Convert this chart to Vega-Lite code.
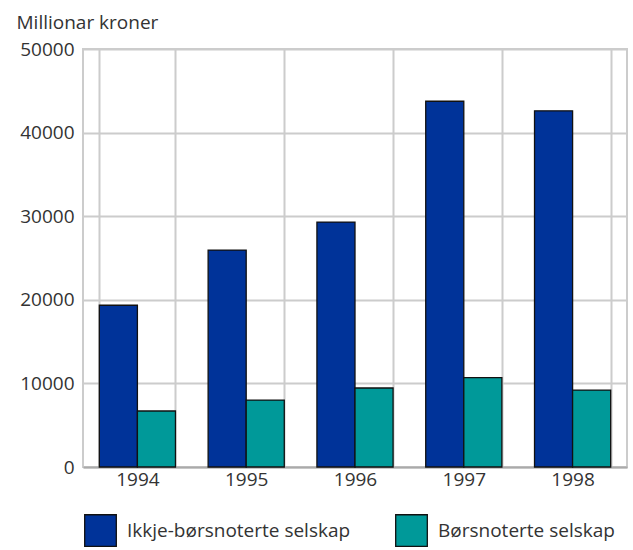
{
  "$schema": "https://vega.github.io/schema/vega-lite/v6.json",
  "width": 544,
  "height": 418,
  "autosize": "none",
  "padding": {"left": 83, "top": 49, "right": 6, "bottom": 83},
  "background": "white",
  "config": {
    "font": "Open Sans",
    "view": {"stroke": "#cccccc", "strokeWidth": 2}
  },
  "data": {
    "values": [
      {"year": "1994", "type": "Ikkje-børsnoterte selskap", "value": 19350},
      {"year": "1994", "type": "Børsnoterte selskap", "value": 6700},
      {"year": "1995", "type": "Ikkje-børsnoterte selskap", "value": 25950},
      {"year": "1995", "type": "Børsnoterte selskap", "value": 8000},
      {"year": "1996", "type": "Ikkje-børsnoterte selskap", "value": 29300},
      {"year": "1996", "type": "Børsnoterte selskap", "value": 9450},
      {"year": "1997", "type": "Ikkje-børsnoterte selskap", "value": 43750},
      {"year": "1997", "type": "Børsnoterte selskap", "value": 10700},
      {"year": "1998", "type": "Ikkje-børsnoterte selskap", "value": 42600},
      {"year": "1998", "type": "Børsnoterte selskap", "value": 9200}
    ]
  },
  "mark": {"type": "bar", "stroke": "#111111", "strokeWidth": 1.3},
  "encoding": {
    "x": {
      "field": "year",
      "type": "nominal",
      "scale": {"paddingInner": 0.3, "paddingOuter": 0.15},
      "axis": {
        "title": null,
        "labelAngle": 0,
        "tickBand": "extent",
        "grid": true,
        "gridColor": "#cccccc",
        "gridWidth": 2,
        "ticks": false,
        "domain": true,
        "domainColor": "#aaaaaa",
        "domainWidth": 2,
        "labelFontSize": 19,
        "labelColor": "#333333",
        "labelPadding": 3
      }
    },
    "xOffset": {
      "field": "type",
      "type": "nominal",
      "sort": ["Ikkje-børsnoterte selskap", "Børsnoterte selskap"]
    },
    "y": {
      "field": "value",
      "type": "quantitative",
      "scale": {"domain": [0, 50000], "nice": false},
      "axis": {
        "values": [0, 10000, 20000, 30000, 40000, 50000],
        "format": "d",
        "grid": true,
        "gridColor": "#cccccc",
        "gridWidth": 2,
        "ticks": false,
        "domain": false,
        "labelFontSize": 19,
        "labelColor": "#333333",
        "labelPadding": 9,
        "title": "Millionar kroner",
        "titleAngle": 0,
        "titleAlign": "left",
        "titleBaseline": "alphabetic",
        "titleX": -67,
        "titleY": -21,
        "titleFontSize": 19,
        "titleFontWeight": "normal",
        "titleColor": "#333333"
      }
    },
    "color": {
      "field": "type",
      "type": "nominal",
      "scale": {
        "domain": ["Ikkje-børsnoterte selskap", "Børsnoterte selskap"],
        "range": ["#003399", "#009999"]
      },
      "legend": {
        "title": null,
        "orient": "none",
        "direction": "horizontal",
        "legendX": 1,
        "legendY": 465,
        "symbolType": "square",
        "symbolSize": 1000,
        "symbolStrokeColor": "#111111",
        "symbolStrokeWidth": 1.3,
        "labelFontSize": 19,
        "labelColor": "#333333",
        "labelOffset": 10,
        "columnPadding": 42,
        "labelLimit": 400
      }
    }
  }
}
